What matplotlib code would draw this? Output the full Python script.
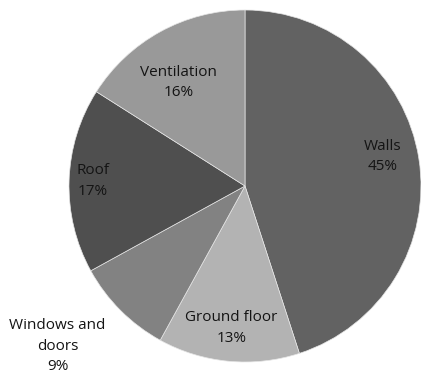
import numpy as np
import matplotlib.pyplot as plt

labels = ['Walls', 'Ground floor', 'Windows and\ndoors', 'Roof', 'Ventilation']
shares = [45, 13, 9, 17, 16]
colors = ['#626262', '#b3b3b3', '#828282', '#4f4f4f', '#999999']
# how far from the centre each label sits (in radii) and a small angular nudge
label_dist = [0.80, 0.81, 1.40, 0.865, 0.70]
label_nudge = [3, 0, -4.5, 0, 4]

W, H = 421, 376
cx, cy, R = 245, 186, 176  # pie centre and radius in pixels

fig = plt.figure(figsize=(W / 100, H / 100), dpi=100)
ax = fig.add_axes([0, 0, 1, 1])

wedges, _ = ax.pie(shares, colors=colors, startangle=90, counterclock=False,
                   wedgeprops=dict(edgecolor='#e6e6e6', linewidth=0.5))

for w, lab, pct, d, nudge in zip(wedges, labels, shares, label_dist, label_nudge):
    mid = np.deg2rad((w.theta1 + w.theta2) / 2 + nudge)
    ax.text(d * np.cos(mid), d * np.sin(mid), f'{lab}\n{pct}%',
            ha='center', va='center', fontsize=11, color='#141414',
            linespacing=1.5, family=['Open Sans', 'DejaVu Sans'])

ax.set_aspect('auto')
ax.set_xlim(-cx / R, (W - cx) / R)
ax.set_ylim(-(H - cy) / R, cy / R)
ax.axis('off')

fig.savefig('out.png', dpi=100)
